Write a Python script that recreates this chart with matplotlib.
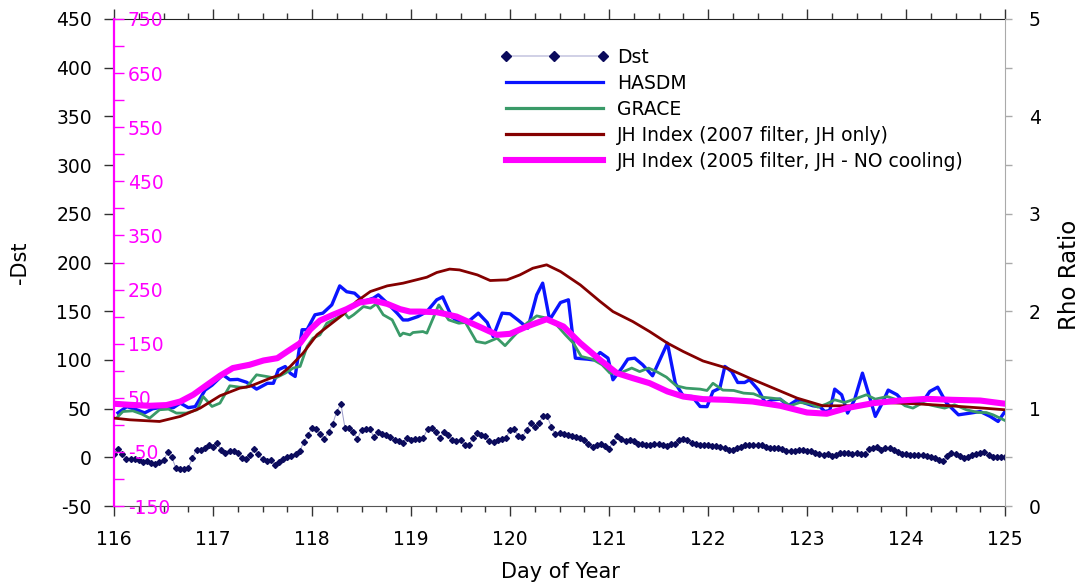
import numpy as np
import matplotlib
matplotlib.use("Agg")
import matplotlib.pyplot as plt
from matplotlib.ticker import MultipleLocator, FixedLocator
from matplotlib.lines import Line2D

plt.rcParams['font.family'] = ['DejaVu Sans']
plt.rcParams['axes.unicode_minus'] = False

# ---------------- data ----------------
# -Dst, hourly from day 116.0 to 125.0
neg_dst = [
    3.8, 8.2, 3, -1.4, -1.4, -1.4, -3, -4.8, -4, -6, -7, -4.8, -3, 5, 0, -11, -11.5, -11.5, -11, -1, 8, 8, 10, 13,
    11, 15, 7, 4, 6.5, 6.5, 4, -0.7, -1.5, 2, 8.5, 3, -2, -4, -2.5, -8, -4.8, -2, 0.3, 1, 3, 6, 15.7, 23,
    30, 29, 24, 19, 26, 34, 47, 55, 30, 30, 26, 19, 28, 29.5, 29, 21, 26, 24, 23, 20.5, 17.5, 17, 14.7, 20,
    18, 19, 18.5, 20, 29, 30, 26, 20, 26, 23, 18, 17, 17.5, 13, 13, 19.5, 24.6, 23, 22, 16.6, 15.7, 18, 19, 20,
    27.7, 28.8, 22, 21, 27.7, 35, 31, 35, 42.4, 42.4, 31.5, 23.6, 25, 23.6, 22.6, 21.5, 21, 20, 17.5, 14, 10.6, 12.3, 13.3, 11.6,
    9, 15.7, 21.5, 19, 16.6, 18, 16.6, 14, 13.3, 13, 13, 14, 13.3, 12.3, 11.6, 13.3, 14, 18, 19, 17.5, 14.7, 13.3, 13, 13,
    13, 11.6, 11.3, 10.6, 10, 8, 8, 10, 10.6, 12.3, 13, 13, 13, 12.3, 10.6, 10, 10, 10, 8.3, 6.6, 6.6, 6.3, 8, 8,
    6.6, 6.6, 4, 3.3, 2.3, 3.3, 1.3, 2.3, 4, 4.6, 4, 3.3, 4, 3.3, 3.3, 9, 9.6, 10.6, 8, 9.6, 9.6, 8, 5, 3.3,
    3.3, 2.3, 2.3, 2.3, 2.3, 1.3, 0.6, -1, -2.7, -4, 1.3, 4, 3.3, 1.3, -1, 0, 2.3, 3.3, 4, 5.6, 2.3, 0, 0, 0.6,
    0.6,
]
dst_day = 116 + np.arange(len(neg_dst)) / 24.0

hasdm_day = [
    116.04, 116.13, 116.23, 116.31, 116.39, 116.46, 116.60, 116.67, 116.75, 116.82,
    116.92, 116.99, 117.10, 117.17, 117.25, 117.34, 117.44, 117.55, 117.61, 117.66,
    117.73, 117.78, 117.83, 117.90, 117.95, 118.03, 118.11, 118.20, 118.28, 118.35,
    118.43, 118.52, 118.62, 118.67, 118.76, 118.86, 118.92, 118.97, 119.07, 119.16,
    119.26, 119.32, 119.41, 119.49, 119.58, 119.68, 119.77, 119.83, 119.92, 120.00,
    120.08, 120.18, 120.27, 120.33, 120.40, 120.51, 120.59, 120.66, 120.78, 120.84,
    120.91, 120.99, 121.04, 121.13, 121.19, 121.26, 121.34, 121.44, 121.59, 121.67,
    121.75, 121.84, 121.92, 121.99, 122.05, 122.12, 122.17, 122.24, 122.30, 122.37,
    122.42, 122.51, 122.58, 122.65, 122.73, 122.81, 122.90, 122.98, 123.06, 123.13,
    123.18, 123.23, 123.28, 123.35, 123.41, 123.48, 123.56, 123.62, 123.69, 123.76,
    123.82, 123.91, 123.97, 124.07, 124.16, 124.24, 124.32, 124.41, 124.53, 124.65,
    124.75, 124.85, 124.93, 125.00,
]
hasdm_rho = [
    0.956, 1.02, 0.988, 0.956, 0.998, 1.01, 1.01, 1.056, 1.01, 1.02,
    1.19, 1.24, 1.347, 1.296, 1.30, 1.27, 1.20, 1.26, 1.26, 1.398,
    1.432, 1.364, 1.33, 1.81, 1.81, 1.963, 1.98, 2.065, 2.26, 2.20,
    2.185, 2.10, 2.134, 2.168, 2.083, 1.98, 1.91, 1.91, 1.945, 1.996,
    2.117, 2.147, 1.945, 1.884, 1.895, 1.98, 1.884, 1.74, 1.98, 1.973,
    1.91, 1.826, 2.168, 2.288, 1.91, 2.089, 2.117, 1.518, 1.508, 1.50,
    1.576, 1.518, 1.296, 1.416, 1.508, 1.518, 1.45, 1.337, 1.672, 1.26,
    1.13, 1.124, 1.022, 1.02, 1.176, 1.21, 1.433, 1.38, 1.268, 1.268,
    1.296, 1.19, 1.056, 1.09, 1.097, 1.029, 1.09, 1.056, 1.029, 1.02,
    0.97, 0.98, 1.20, 1.142, 0.954, 1.09, 1.364, 1.16, 0.92, 1.056,
    1.19, 1.142, 1.074, 1.056, 1.056, 1.176, 1.22, 1.056, 0.936, 0.954,
    0.97, 0.92, 0.868, 0.97,
]

grace_day = [
    116.04, 116.09, 116.19, 116.28, 116.36, 116.46, 116.55, 116.63, 116.73, 116.84,
    116.90, 116.99, 117.07, 117.17, 117.27, 117.34, 117.44, 117.54, 117.63, 117.73,
    117.81, 117.88, 117.95, 118.01, 118.08, 118.15, 118.25, 118.33, 118.37, 118.42,
    118.52, 118.59, 118.65, 118.72, 118.81, 118.89, 118.92, 118.99, 119.02, 119.12,
    119.16, 119.28, 119.38, 119.48, 119.55, 119.66, 119.75, 119.87, 119.95, 120.05,
    120.17, 120.27, 120.37, 120.47, 120.56, 120.64, 120.72, 120.83, 120.93, 121.01,
    121.11, 121.23, 121.31, 121.40, 121.48, 121.58, 121.68, 121.78, 121.92, 121.99,
    122.05, 122.15, 122.26, 122.36, 122.46, 122.54, 122.64, 122.73, 122.83, 122.93,
    123.03, 123.11, 123.20, 123.28, 123.38, 123.48, 123.60, 123.69, 123.81, 123.91,
    123.99, 124.07, 124.16, 124.28, 124.39, 124.49, 124.61, 124.73, 124.81, 124.88,
    125.00,
]
grace_rho = [
    0.919, 0.97, 0.977, 0.944, 0.902, 0.988, 0.995, 0.954, 0.954, 0.988,
    1.124, 1.022, 1.056, 1.234, 1.22, 1.22, 1.347, 1.33, 1.313, 1.364,
    1.416, 1.433, 1.637, 1.723, 1.757, 1.877, 1.929, 1.98, 1.929, 1.963,
    2.048, 2.031, 2.075, 1.963, 1.911, 1.747, 1.775, 1.757, 1.781, 1.791,
    1.775, 2.065, 1.911, 1.877, 1.884, 1.689, 1.672, 1.723, 1.646, 1.757,
    1.877, 1.952, 1.929, 1.86, 1.757, 1.672, 1.535, 1.508, 1.45, 1.364,
    1.364, 1.416, 1.38, 1.416, 1.38, 1.323, 1.234, 1.21, 1.20, 1.186,
    1.26, 1.19, 1.186, 1.159, 1.152, 1.118, 1.108, 1.097, 1.029, 1.063,
    1.049, 1.015, 1.049, 1.09, 1.063, 1.097, 1.142, 1.097, 1.124, 1.09,
    1.029, 1.005, 1.056, 1.029, 1.005, 1.039, 0.988, 0.96, 0.96, 0.936,
    0.878,
]

jh2007_day = [
    116.0, 116.16, 116.46, 116.67, 116.87, 117.07, 117.27, 117.37, 117.58, 117.68,
    117.78, 117.91, 118.05, 118.18, 118.31, 118.45, 118.59, 118.76, 118.92, 119.16,
    119.26, 119.39, 119.49, 119.67, 119.80, 119.97, 120.10, 120.23, 120.37, 120.51,
    120.71, 120.91, 121.04, 121.24, 121.41, 121.59, 121.75, 121.95, 122.19, 122.42,
    122.66, 122.90, 123.16, 123.43, 123.77, 124.11, 124.44, 124.78, 125.0,
]
jh2007 = [
    12.4, 9.3, 6.2, 15.6, 30.9, 53.6, 67.8, 70.9, 86.3, 92.5,
    107.8, 132.6, 166.3, 184.8, 203.3, 228, 246.4, 256.8, 261.8, 272.8,
    281.5, 287.8, 286.3, 277.1, 266.7, 268, 277.1, 289.4, 295.7, 283.3,
    258.6, 228, 209.3, 190.9, 172.4, 151, 135.5, 118, 104.9, 86.3,
    67.8, 49.4, 35.2, 35.2, 41.3, 38.8, 35.2, 30.9, 27.8,
]

jh2005_day = [
    116.0, 116.16, 116.36, 116.53, 116.67, 116.80, 116.94, 117.07, 117.20, 117.37,
    117.51, 117.65, 117.75, 117.88, 117.98, 118.08, 118.21, 118.35, 118.48, 118.62,
    118.76, 118.89, 118.99, 119.09, 119.26, 119.46, 119.67, 119.87, 120.0, 120.17,
    120.37, 120.54, 120.71, 120.91, 121.08, 121.24, 121.41, 121.59, 121.75, 121.95,
    122.19, 122.45, 122.73, 123.0, 123.20, 123.40, 123.67, 123.94, 124.21, 124.47,
    124.75, 125.0,
]
jh2005 = [
    39, 37, 35.2, 36.5, 43.1, 55.6, 73.9, 90.7, 104.9, 111,
    118.9, 123.2, 135.5, 151, 175.8, 192.7, 203.3, 213.8, 226, 229.8,
    223.5, 213.8, 209.3, 209.3, 208.2, 200.1, 183, 166.3, 168.2, 181.7,
    195.2, 181.7, 151, 120, 95.5, 86.3, 77, 61.7, 52.3, 47.5,
    46.2, 43.1, 35.2, 22.8, 20.5, 30.9, 40.1, 44.9, 48, 46.2,
    44.9, 39,
]

x_ticks = [116, 117, 118, 119, 120, 121, 122, 123, 124, 125]
dst_ticks = [-50, 0, 50, 100, 150, 200, 250, 300, 350, 400, 450]
rho_ticks = [0, 1, 2, 3, 4, 5]
jh_ticks = [-150, -50, 50, 150, 250, 350, 450, 550, 650, 750]

# ---------------- styling ----------------
C_DST = '#0b0b5c'
C_DSTLINE = '#9a9ac8'
C_HASDM = '#0a14ff'
C_GRACE = '#3a9a68'
C_JH07 = '#840000'
C_JH05 = '#ff00ff'
FS = 13.5

fig = plt.figure(figsize=(10.82, 5.87), dpi=100)
fig.patch.set_facecolor('white')
ax = fig.add_axes([114 / 1082, 1 - 506 / 587, 891 / 1082, 487 / 587])
ax2 = ax.twinx()
ax3 = ax.twinx()

# Dst
ax.plot(dst_day, neg_dst, color=C_DSTLINE, lw=0.7, marker='D', ms=3.0,
        mfc=C_DST, mec=C_DST, zorder=3)
ax.set_xlim(116, 125)
ax.set_ylim(-50, 450)
ax.xaxis.set_major_locator(FixedLocator(x_ticks))
ax.xaxis.set_minor_locator(MultipleLocator(0.25))
ax.yaxis.set_major_locator(FixedLocator(dst_ticks))
ax.tick_params(axis='x', which='major', direction='out', length=7, width=1,
               top=True, color='#333333', labelsize=FS, pad=10)
ax.tick_params(axis='x', which='minor', direction='out', length=4, width=1,
               top=True, color='#333333')
ax.tick_params(axis='y', which='major', direction='out', length=7, width=1,
               color='#333333', labelsize=FS, pad=9)
ax.spines['left'].set_visible(False)
ax.spines['right'].set_visible(False)
ax.spines['top'].set_color('#222222')
ax.spines['bottom'].set_color('#555555')

# Rho ratio axis
ax2.plot(hasdm_day, hasdm_rho, color=C_HASDM, lw=2.4, zorder=3)
ax2.plot(grace_day, grace_rho, color=C_GRACE, lw=2.0, zorder=3)
ax2.set_ylim(0, 5)
ax2.yaxis.set_major_locator(FixedLocator(rho_ticks))
ax2.yaxis.set_minor_locator(MultipleLocator(0.5))
ax2.tick_params(axis='y', which='both', direction='out', length=5, width=1,
                color='#aaaaaa', labelsize=FS, pad=12)
for s in ['left', 'top', 'bottom']:
    ax2.spines[s].set_visible(False)
ax2.spines['right'].set_color('#aaaaaa')

# JH index axis (magenta, on left, inside)
ax3.plot(jh2007_day, jh2007, color=C_JH07, lw=2.0, zorder=3)
ax3.plot(jh2005_day, jh2005, color=C_JH05, lw=4.4, solid_capstyle='round', zorder=4)
ax3.set_ylim(-150, 750)
ax3.yaxis.tick_left()
ax3.yaxis.set_major_locator(FixedLocator(jh_ticks))
ax3.yaxis.set_minor_locator(FixedLocator([-100, 0, 100, 200, 300, 400, 500, 600, 700]))
ax3.tick_params(axis='y', which='both', direction='in', length=7, width=1,
                color=C_JH05, labelcolor=C_JH05, labelsize=FS, pad=-10)
for s in ['right', 'top', 'bottom']:
    ax3.spines[s].set_visible(False)
ax3.spines['left'].set_visible(True)
ax3.spines['left'].set_color(C_JH05)
ax3.spines['left'].set_linewidth(1.6)
for lbl in ax3.get_yticklabels():
    lbl.set_horizontalalignment('left')

# axis titles
fig.text(20 / 1082, 1 - 263 / 587, '-Dst', rotation=90, ha='center', va='center', fontsize=15)
fig.text(1069 / 1082, 1 - 275 / 587, 'Rho Ratio', rotation=90, ha='center', va='center', fontsize=16.5)
fig.text(560 / 1082, 1 - 572 / 587, 'Day of Year', ha='center', va='center', fontsize=15)

# legend
handles = [
    Line2D([], [], color='#c8c8e2', lw=1.2, marker='D', ms=5.5, mfc=C_DST, mec=C_DST),
    Line2D([], [], color=C_HASDM, lw=2.3),
    Line2D([], [], color=C_GRACE, lw=2.3),
    Line2D([], [], color=C_JH07, lw=2.3),
    Line2D([], [], color=C_JH05, lw=4.4),
]
labels = ['Dst', 'HASDM', 'GRACE', 'JH Index (2007 filter, JH only)',
          'JH Index (2005 filter, JH - NO cooling)']
fig.legend(handles, labels, loc='upper left', bbox_to_anchor=(500 / 1082, 1 - 48 / 587),
           frameon=False, fontsize=FS, numpoints=3, handlelength=5.8, handletextpad=0.45,
           labelspacing=0.37, borderpad=0, borderaxespad=0)

fig.savefig('out.png', dpi=100, facecolor='white')
